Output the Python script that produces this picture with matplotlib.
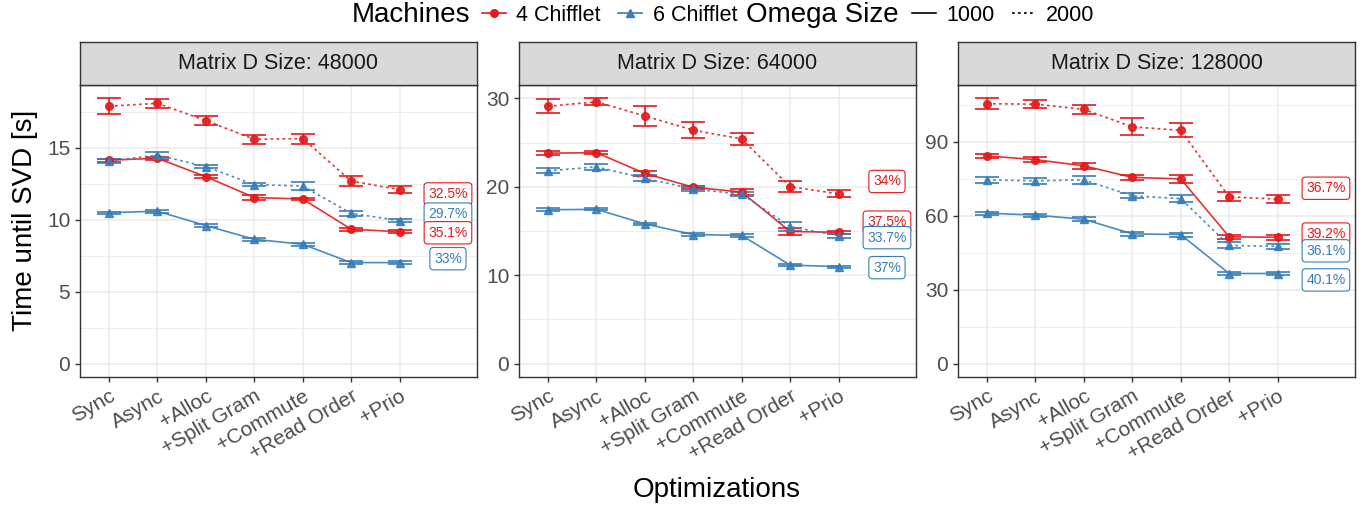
# ======= Time until SVD per optimization step, three matrix sizes =======
import numpy as np
import matplotlib.pyplot as plt
from matplotlib.lines import Line2D
from matplotlib.ticker import MultipleLocator

plt.rcParams['font.family'] = ['Liberation Sans', 'DejaVu Sans']

# Step 1: data
optimizations = ['Sync', 'Async', '+Alloc', '+Split Gram', '+Commute', '+Read Order', '+Prio']
sizes = [48000, 64000, 128000]
major_step = [5, 10, 30]

# 4 Chifflet, Omega 2000 (red dotted)
c4_w2000 = [[17.9, 18.1, 16.9, 15.6, 15.65, 12.7, 12.1],
            [29.1, 29.6, 28.0, 26.4, 25.4, 20.0, 19.2],
            [105.5, 105.3, 103.2, 96.1, 94.7, 67.7, 66.8]]
c4_w2000_err = [[0.55, 0.3, 0.3, 0.3, 0.35, 0.35, 0.25],
                [0.8, 0.4, 1.15, 0.9, 0.65, 0.6, 0.4],
                [2.2, 1.5, 1.9, 3.5, 2.9, 1.8, 1.5]]
# 4 Chifflet, Omega 1000 (red solid)
c4_w1000 = [[14.15, 14.28, 13.0, 11.55, 11.45, 9.35, 9.17],
            [23.8, 23.85, 21.5, 19.95, 19.4, 14.95, 14.85],
            [84.3, 82.8, 80.3, 75.6, 75.0, 51.5, 51.3]]
c4_w1000_err = [[0.1, 0.12, 0.1, 0.15, 0.08, 0.1, 0.1],
                [0.2, 0.2, 0.25, 0.15, 0.3, 0.35, 0.15],
                [0.9, 1.0, 1.2, 1.0, 1.7, 0.9, 0.9]]
# 6 Chifflet, Omega 2000 (blue dotted)
c6_w2000 = [[14.1, 14.5, 13.7, 12.45, 12.35, 10.45, 9.95],
            [21.8, 22.25, 20.95, 19.75, 19.15, 15.5, 14.45],
            [74.6, 74.2, 74.6, 68.1, 67.0, 48.0, 47.6]]
c6_w2000_err = [[0.15, 0.2, 0.12, 0.12, 0.25, 0.15, 0.1],
                [0.3, 0.3, 0.35, 0.25, 0.25, 0.5, 0.25],
                [1.3, 1.2, 1.5, 1.0, 1.4, 1.2, 0.9]]
# 6 Chifflet, Omega 1000 (blue solid)
c6_w1000 = [[10.5, 10.6, 9.6, 8.65, 8.3, 7.03, 7.03],
            [17.4, 17.45, 15.8, 14.6, 14.5, 11.15, 10.97],
            [61.1, 60.3, 58.6, 52.7, 52.4, 36.6, 36.6]]
c6_w1000_err = [[0.08, 0.1, 0.1, 0.1, 0.1, 0.08, 0.1],
                [0.15, 0.12, 0.15, 0.15, 0.2, 0.12, 0.12],
                [0.6, 0.6, 0.8, 0.7, 0.8, 0.6, 0.5]]

# percentage labels at the right of each panel
label_texts = [['32.5%', '29.7%', '35.1%', '33%'],
               ['34%', '37.5%', '33.7%', '37%'],
               ['36.7%', '39.2%', '36.1%', '40.1%']]
label_y = [[11.8, 10.4, 9.1, 7.3],
           [20.6, 16.0, 14.25, 10.86],
           [71.2, 52.6, 45.8, 34.0]]
label_machine = [['4', '6', '4', '6'],
                 ['4', '4', '6', '6'],
                 ['4', '4', '6', '6']]

RED = '#E41A1C'
BLUE = '#377EB8'
colors = {'4': RED, '6': BLUE}
DOTTED = (0, (1.6, 2.0))

series = [(c4_w2000, c4_w2000_err, RED, 'o', DOTTED),
          (c4_w1000, c4_w1000_err, RED, 'o', '-'),
          (c6_w2000, c6_w2000_err, BLUE, '^', DOTTED),
          (c6_w1000, c6_w1000_err, BLUE, '^', '-')]

# Step 2: figure and panels
fig = plt.figure(figsize=(13.68, 5.11), dpi=100)
W, H = 1368, 511
panel_left = [80, 519, 958]
panel_w = 397
top, bottom, strip_top = 85, 377, 42

x = np.arange(1, len(optimizations) + 1)

for p, size in enumerate(sizes):
    ax = fig.add_axes([panel_left[p] / W, 1 - bottom / H, panel_w / W, (bottom - top) / H])
    ymax = 0
    for means, errs, col, mk, ls in series:
        m = np.array(means[p])
        e = np.array(errs[p])
        ymax = max(ymax, (m + e).max())
        ax.errorbar(x, m, yerr=e, fmt='none', ecolor=col, elinewidth=1.2,
                    capsize=8.5, capthick=1.2, zorder=3)
        ax.plot(x, m, color=col, linestyle=ls, linewidth=1.2, marker=mk,
                markersize=5.5, alpha=0.9, zorder=4)

    for txt, yv, mach in zip(label_texts[p], label_y[p], label_machine[p]):
        c = colors[mach]
        ax.text(8, yv, txt, color=c, fontsize=10, ha='center', va='center', zorder=5,
                clip_on=False,
                bbox=dict(boxstyle='round,pad=0.3,rounding_size=0.25', fc='white', ec=c, lw=0.8))

    ax.set_xlim(0.4, 8.6)
    ax.set_ylim(-0.05 * ymax, 1.05 * ymax)
    ax.set_xticks(x)
    ax.set_xticklabels(optimizations, rotation=30, ha='right', rotation_mode='anchor')
    ax.yaxis.set_major_locator(MultipleLocator(major_step[p]))
    ax.yaxis.set_minor_locator(MultipleLocator(major_step[p] / 2))
    ax.grid(True, which='major', color='#EBEBEB', linewidth=1.1)
    ax.grid(True, which='minor', axis='y', color='#EBEBEB', linewidth=0.6)
    ax.set_axisbelow(True)
    ax.tick_params(axis='both', which='major', labelsize=15, colors='#333333',
                   labelcolor='#4D4D4D', length=3.5, width=1.0)
    ax.tick_params(axis='both', which='minor', length=0)
    for s in ax.spines.values():
        s.set_color('#333333')
        s.set_linewidth(1.0)

    # strip on top of each panel
    sax = fig.add_axes([panel_left[p] / W, 1 - top / H, panel_w / W, (top - strip_top) / H])
    sax.set_facecolor('#D9D9D9')
    sax.set_xticks([])
    sax.set_yticks([])
    for s in sax.spines.values():
        s.set_color('#333333')
        s.set_linewidth(1.0)
    sax.text(0.5, 0.5, f'Matrix D Size: {size}', ha='center', va='center',
             fontsize=15.5, color='#1A1A1A', transform=sax.transAxes)

# Step 3: axis titles
fig.text(717 / W, 1 - 490 / H, 'Optimizations', ha='center', va='center', fontsize=20)
fig.text(25 / W, 1 - 220 / H, 'Time until SVD [s]', ha='center', va='center',
         rotation=90, fontsize=20)

# Step 4: legend at the top
ly = 1 - 15 / H
fig.text(352 / W, ly, 'Machines', ha='left', va='center', fontsize=20)
h1 = [Line2D([], [], color=RED, marker='o', markersize=5.5, lw=1.2),
      Line2D([], [], color=BLUE, marker='^', markersize=5.5, lw=1.2)]
fig.legend(h1, ['4 Chifflet', '6 Chifflet'], loc='center left', bbox_to_anchor=(482 / W, ly),
           ncol=2, frameon=False, fontsize=15.5, handlelength=1.1, handletextpad=0.5,
           columnspacing=0.8, borderpad=0, borderaxespad=0)
fig.text(746 / W, ly, 'Omega Size', ha='left', va='center', fontsize=20)
h2 = [Line2D([], [], color='black', lw=1.2),
      Line2D([], [], color='black', lw=1.2, linestyle=DOTTED)]
fig.legend(h2, ['1000', '2000'], loc='center left', bbox_to_anchor=(912 / W, ly),
           ncol=2, frameon=False, fontsize=15.5, handlelength=1.1, handletextpad=0.5,
           columnspacing=0.8, borderpad=0, borderaxespad=0)

fig.savefig('out.png', dpi=100)
